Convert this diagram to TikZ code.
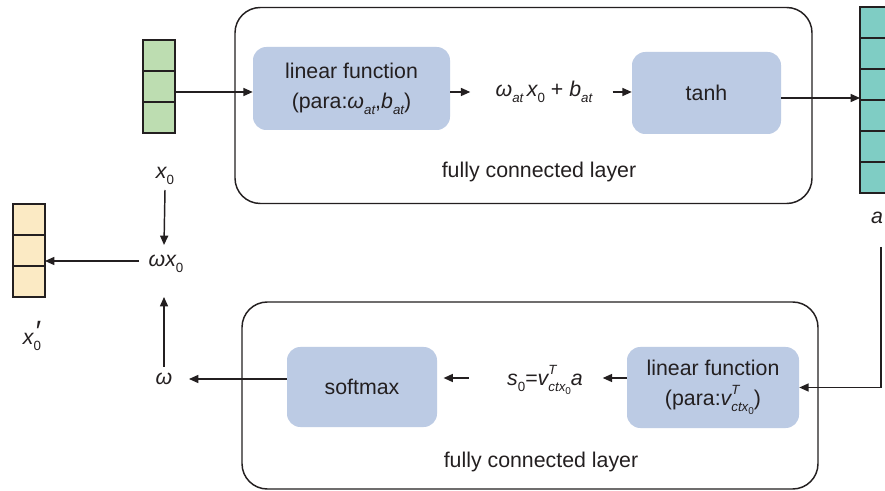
\documentclass[tikz,border=0pt]{standalone}
\usepackage{fontspec}
\setmainfont{Liberation Sans}
\usetikzlibrary{arrows.meta}

\definecolor{fcblue}{HTML}{BCCBE4}
\definecolor{vgreen}{HTML}{BDDDB1}
\definecolor{vteal}{HTML}{7FCDC4}
\definecolor{vyellow}{HTML}{FBEAC4}
\definecolor{ink}{HTML}{231F20}

% sub- and superscripts set in text mode (sans italic look)
\newcommand\lo[1]{\raisebox{-0.55ex}{\fontsize{10}{10}\selectfont #1}}
\newcommand\hi[1]{\raisebox{1.0ex}{\fontsize{10}{10}\selectfont #1}}
\newcommand\llo[1]{\raisebox{-0.45ex}{\fontsize{7.5}{7.5}\selectfont #1}}
\newcommand\primemark{\raisebox{0.25ex}{\fontsize{22}{22}\selectfont\itshape ′}}

\tikzset{
  cell/.style={draw=ink, line width=1.1pt, minimum width=24pt, minimum height=23.25pt,
               inner sep=0pt, outer sep=0pt},
  layerbox/.style={draw=ink, line width=1.1pt, rounded corners=19pt, inner sep=0pt},
  fbox/.style={fill=fcblue, rounded corners=10pt, inner sep=0pt, align=center,
               font=\fontsize{16}{22.5}\selectfont, text=ink},
  lbl/.style={font=\fontsize{16}{19}\selectfont, text=ink, inner sep=1pt},
  arr/.style={draw=ink, line width=1.1pt, -{Triangle[length=7pt,width=6pt]}},
}

\begin{document}
\begin{tikzpicture}[x=0.75pt, y=-0.75pt]
\useasboundingbox (0,0) rectangle (885,491);
\clip (0,0) rectangle (885,491);
\fill[white] (0,0) rectangle (885,491);

% input vector x_0
\node[cell, fill=vgreen] (xa) at (159,55.5) {};
\node[cell, fill=vgreen] (xb) at (159,86.5) {};
\node[cell, fill=vgreen] (xc) at (159,117.5) {};

% output vector x'_0
\node[cell, fill=vyellow] (ya) at (29,219.5) {};
\node[cell, fill=vyellow] (yb) at (29,250.5) {};
\node[cell, fill=vyellow] (yc) at (29,281.5) {};

% attention vector a
\node[cell, fill=vteal] (a1) at (876,22.5) {};
\node[cell, fill=vteal] (a2) at (876,53.5) {};
\node[cell, fill=vteal] (a3) at (876,84.5) {};
\node[cell, fill=vteal] (a4) at (876,115.5) {};
\node[cell, fill=vteal] (a5) at (876,146.5) {};
\node[cell, fill=vteal] (a6) at (876,177.5) {};

% the two fully connected layers
\node[layerbox, minimum width=432.75pt, minimum height=147pt] (fc1) at (523.5,105.5) {};
\node[layerbox, minimum width=432pt, minimum height=140.25pt] (fc2) at (530,395.5) {};
\node[lbl] (fc1lbl) at (539,172) {fully connected layer};
\node[lbl] (fc2lbl) at (541,462) {fully connected layer};

% function blocks
\node[fbox, minimum width=147.75pt, minimum height=62.25pt] (lin1) at (351.5,88.5)
  {linear function\\(para:{\itshape ω}\lo{\itshape at},{\itshape b}\lo{\itshape at})};
\node[fbox, minimum width=111.75pt, minimum height=61.5pt] (tanh) at (706.5,93) {tanh};
\node[fbox, minimum width=129pt, minimum height=60.75pt] (lin2) at (713,387.5)
  {linear function\\(para:{\itshape v}\rlap{\hi{\itshape T}}\lo{\itshape ctx\llo{\upshape 0}})};
\node[fbox, minimum width=112.5pt, minimum height=60pt] (soft) at (362,387) {softmax};

% formulas and labels
\node[lbl] (f1) at (544,92)
  {{\itshape ω}\lo{\itshape at}\,{\itshape x}\lo{0} + {\itshape b}\lo{\itshape at}};
\node[lbl] (s0) at (545,380)
  {{\itshape s}\lo{0}={\itshape v}\rlap{\hi{\itshape T}}\lo{\itshape ctx\llo{\upshape 0}}{\itshape a}};
\node[lbl] (x0) at (165,176) {{\itshape x}\lo{0}};
\node[lbl] (wx0) at (166,264) {{\itshape ωx}\lo{0}};
\node[lbl] (w) at (164,379) {{\itshape ω}};
\node[lbl] (x0p) at (32,336) {{\itshape x}\rlap{\kern0.5pt\primemark}\lo{0}};
\node[lbl] (alab) at (877,218) {{\itshape a}};

% connectors
\draw[arr] (xb.east |- 0,92) -- (lin1.west |- 0,92);
\draw[arr] (lin1.east |- 0,92) -- ++(20,0);
\draw[arr] (tanh.west |- 0,92) ++(-19,0) -- (tanh.west |- 0,92);
\draw[arr] (tanh.east |- 0,98) -- (a3.west |- 0,98);
\draw[arr] (881,247) -- (881,387.5) -- (lin2.east);
\draw[arr] (lin2.west |- 0,378) -- ++(-24,0);
\draw[arr] (s0.west |- 0,378) ++(-37,0) -- ++(-25,0);
\draw[arr] (soft.west |- 0,379) -- (189,379);
\draw[arr] (w.north |- 0,367) -- (164,297);
\draw[arr] (x0.south |- 0,190) -- (164,245);
\draw[arr] (139,261) -- (yb.east |- 0,261);
\end{tikzpicture}
\end{document}
